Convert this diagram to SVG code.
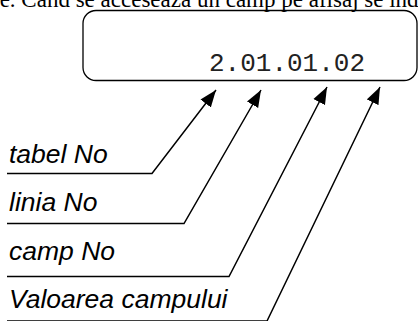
<svg xmlns="http://www.w3.org/2000/svg" width="418" height="321" viewBox="0 0 418 321">
<style>
.lbl{font-family:"Liberation Sans",Arial,sans-serif;font-style:italic;font-size:26.5px;fill:#000}
.conn{fill:none;stroke:#000;stroke-width:1.5}
.head{fill:#000}
</style>
<defs>
<marker id="arr" markerUnits="userSpaceOnUse" markerWidth="18" markerHeight="14" refX="17" refY="7" orient="auto">
<path class="head" d="M0,0.5 L17,7 L0,13.5 Z"/>
</marker>
</defs>
<rect width="418" height="321" fill="#fff"/>
<text x="-8" y="6.5" font-family="'Liberation Serif','Times New Roman',serif" font-size="23" fill="#000">re. Cand se acceseaza un camp pe afisaj se indic</text>
<g id="display">
<rect x="83" y="10.5" width="334" height="70" rx="13" fill="none" stroke="#000" stroke-width="1.3"/>
<text x="209" y="71" font-family="'Liberation Mono','Courier New',monospace" font-size="26" fill="#222">2.01.01.02</text>
</g>
<g id="label-tabel"><text class="lbl" x="9" y="163">tabel No</text></g>
<g id="label-linia"><text class="lbl" x="9" y="211">linia No</text></g>
<g id="label-camp"><text class="lbl" x="9" y="260">camp No</text></g>
<g id="label-valoarea"><text class="lbl" x="9" y="308">Valoarea campului</text></g>
<g id="connectors">
<path class="conn" d="M7,173.5 H152 L216,90" marker-end="url(#arr)"/>
<path class="conn" d="M7,223.5 H184 L261,90" marker-end="url(#arr)"/>
<path class="conn" d="M7,276.5 H229 L327,87" marker-end="url(#arr)"/>
<path class="conn" d="M7,321 H267 L380,87" marker-end="url(#arr)"/>
</g>
</svg>
